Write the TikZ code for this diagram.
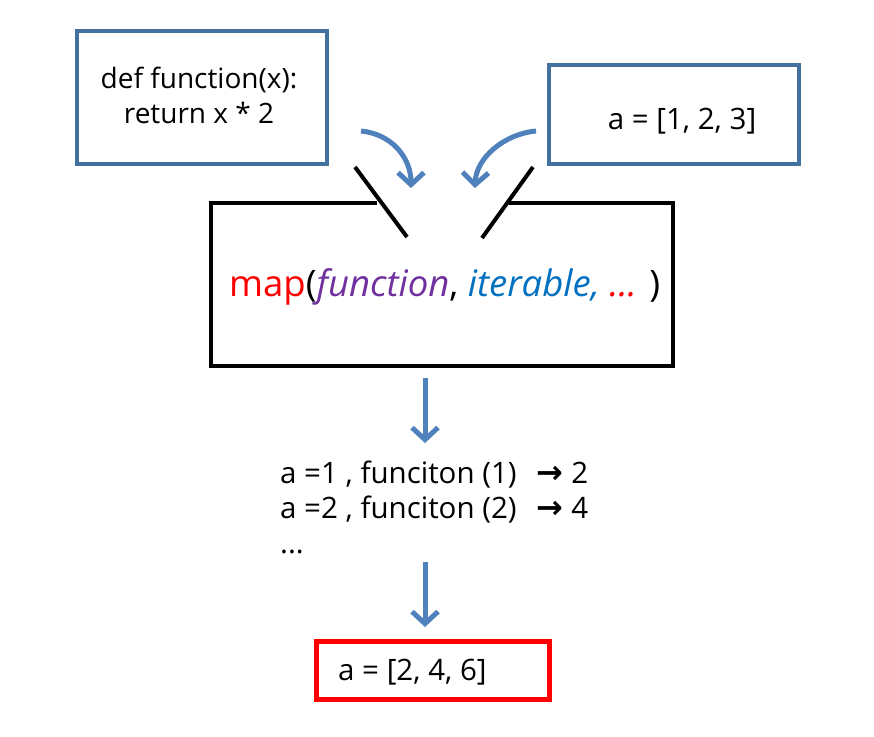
\documentclass[tikz,border=0pt]{standalone}
\usepackage{fontspec}
\setmainfont{Open Sans}
\newfontfamily\dvfont{DejaVu Sans}
\usetikzlibrary{arrows.meta}
\definecolor{boxblue}{HTML}{41719C}
\definecolor{arrblue}{HTML}{4F81BD}
\definecolor{fpurple}{HTML}{7030A0}
\definecolor{iblue}{HTML}{0070C0}
\tikzset{
  bluebox/.style={draw=boxblue, line width=4pt},
  blkline/.style={draw=black, line width=4pt},
  redbox/.style={draw=red, line width=4.5pt},
  flowarrow/.style={draw=arrblue, line width=5pt, -{Straight Barb[length=12pt,width=26pt,line width=5pt]}},
  txt/.style={font=\fontsize{29.5}{35}\selectfont, inner sep=0pt},
}
\begin{document}
\begin{tikzpicture}[x=1pt,y=-1pt]
\useasboundingbox (0,0) rectangle (874,736);
\fill[white] (0,0) rectangle (874,736);
% input boxes
\node[bluebox, minimum width=250pt, minimum height=133pt, inner sep=0pt] (fbox) at (202,97.5) {};
\node[inner sep=0pt, font=\fontsize{28}{35}\selectfont, align=center] (ftext) at (199,95) {def function(x):\\return x * 2};
\node[bluebox, minimum width=250pt, minimum height=99pt, inner sep=0pt] (abox) at (674,114.5) {};
\node[txt] (atext) at (682,121) {a = [1, 2, 3]};
% main box with opening
\coordinate (tl) at (211,203);
\coordinate (tr) at (673,203);
\coordinate (bl) at (211,366);
\coordinate (br) at (673,366);
\coordinate (gl) at (377,203);
\coordinate (gr) at (509,203);
\draw[blkline, line join=miter] (gl) -- (tl) -- (bl) -- (br) -- (tr) -- (gr);
\coordinate (s1a) at (355,167);
\coordinate (s1b) at (407,237);
\coordinate (s2a) at (533,167);
\coordinate (s2b) at (482,238);
\draw[blkline] (s1a) -- (s1b);
\draw[blkline] (s2a) -- (s2b);
\node[inner sep=0pt, anchor=west] (maptext) at (229,287) {\fontsize{36.5}{40}\selectfont\color{red}map\color{black}(\itshape\color{fpurple}function\upshape\color{black}, \itshape\color{iblue}iterable, \color{red}... \upshape\color{black})};
% curved arrows
\coordinate (c1s) at (361,131);
\coordinate (c1e) at (411,188);
\coordinate (c2s) at (536,131);
\coordinate (c2e) at (475,188);
\draw[flowarrow] (c1s) .. controls (392,134) and (411,158) .. (c1e);
\draw[flowarrow] (c2s) .. controls (504,134) and (476,158) .. (c2e);
% steps
\node[txt, anchor=north west, align=left] (steps) at (280,461) {a =1 , funciton (1) \ \,{\dvfont\bfseries\fontsize{32}{35}\selectfont →} 2\\a =2 , funciton (2) \ \,{\dvfont\bfseries\fontsize{32}{35}\selectfont →} 4\\...};
\coordinate (a1s) at (425,378);
\coordinate (a1e) at (425,443);
\draw[flowarrow] (a1s) -- (a1e);
\coordinate (a2s) at (425,562);
\coordinate (a2e) at (425,627);
\draw[flowarrow] (a2s) -- (a2e);
% result
\node[redbox, minimum width=233pt, minimum height=58pt, inner sep=0pt] (res) at (433,670.5) {};
\node[txt, anchor=west] (restext) at (338,672) {a = [2, 4, 6]};
\end{tikzpicture}
\end{document}
